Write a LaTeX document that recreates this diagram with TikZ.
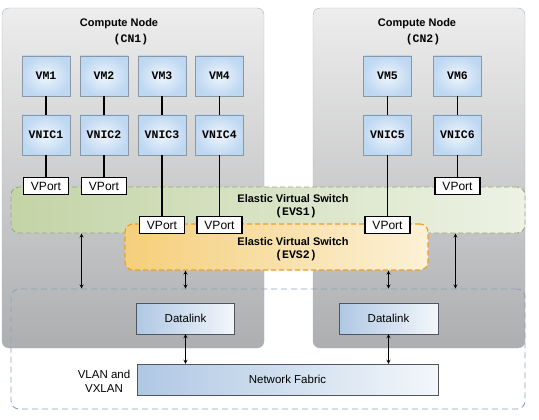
\documentclass[tikz,border=0pt]{standalone}
\usepackage{fontspec}
\setmainfont{Liberation Sans}
\setmonofont{Liberation Mono}
\usepackage{tikz}
\usetikzlibrary{shapes.geometric, arrows}
\definecolor{cnborder}{HTML}{A6B7C9}
\definecolor{cntop}{HTML}{EDEDED}
\definecolor{cnbottom}{HTML}{ADAEB0}
\definecolor{vmblue}{HTML}{BFD8F2}
\definecolor{vmborder}{HTML}{8A97A6}
\definecolor{dlblue}{HTML}{AFC8E3}
\definecolor{dlborder}{HTML}{4F5661}
\definecolor{evsgreen}{HTML}{C3D4A6}
\definecolor{evsgreenborder}{HTML}{98A87E}
\definecolor{evsorange}{HTML}{F5CF7A}
\definecolor{evsorangeborder}{HTML}{EE9F1E}
\definecolor{netborder}{HTML}{8CA1BA}
\tikzstyle{computenode} = [rectangle, rounded corners=7pt, minimum height=340pt, draw=cnborder, top color=cntop, bottom color=cnbottom]
\tikzstyle{title} = [font=\fontsize{11pt}{13pt}\selectfont\bfseries, inner sep=0pt]
\tikzstyle{tag} = [font=\fontsize{11.5pt}{13pt}\selectfont\ttfamily\bfseries, inner sep=0pt]
\tikzstyle{vmbox} = [rectangle, minimum width=48pt, minimum height=40pt, inner sep=0pt, draw=vmborder, inner color=vmblue!25, outer color=vmblue, font=\fontsize{11.5pt}{13pt}\selectfont\ttfamily\bfseries]
\tikzstyle{vport} = [rectangle, minimum width=45pt, minimum height=17pt, inner sep=0pt, draw=black, line width=1.2pt, fill=white, font=\fontsize{12pt}{13pt}\selectfont]
\tikzstyle{switch} = [rectangle, rounded corners=8pt, dash pattern=on 5pt off 3pt, minimum height=46pt]
\tikzstyle{datalink} = [rectangle, minimum height=31pt, draw=dlborder, left color=dlblue, middle color=dlblue, right color=dlblue!15, font=\fontsize{11.5pt}{13pt}\selectfont]
\tikzstyle{wire} = [line width=1.3pt]
\tikzstyle{arrow} = [<->, >=stealth, line width=0.8pt]

\begin{document}
\begin{tikzpicture}[x=1pt, y=-1pt, node distance=59pt]
\useasboundingbox (0,0) rectangle (539,420);

\node (cn1) [computenode, minimum width=262pt] at (133,178) {};
\node (cn2) [computenode, minimum width=212pt] at (419,178) {};
\node (cn1title) [title] at (119,24) {Compute Node};
\node (cn1tag) [tag] at (131,40) {(CN1)};
\node (cn2title) [title] at (417,24) {Compute Node};
\node (cn2tag) [tag] at (423,40) {(CN2)};

\node (net) [rectangle, rounded corners=8pt, dash pattern=on 6pt off 4pt, draw=netborder, line width=0.9pt, minimum width=514pt, minimum height=120pt] at (268,349) {};
\node (evs1) [switch, minimum width=514pt, draw=evsgreenborder, line width=0.9pt, left color=evsgreen, right color=evsgreen!30] at (268,210) {};
\node (evs2) [switch, minimum width=303pt, draw=evsorangeborder, line width=1.2pt, left color=evsorange, right color=evsorange!30] at (276.5,247) {};
\node (evs1title) [title] at (293,199) {Elastic Virtual Switch};
\node (evs1tag) [tag] at (296,213) {(EVS1)};
\node (evs2title) [title] at (293,242) {Elastic Virtual Switch};
\node (evs2tag) [tag] at (296,256) {(EVS2)};

\node (vm1) [vmbox] at (46,76) {VM1};
\node (vm2) [vmbox] at (104,76) {VM2};
\node (vm3) [vmbox] at (162,76) {VM3};
\node (vm4) [vmbox] at (219.5,76) {VM4};
\node (vm5) [vmbox] at (387.5,76) {VM5};
\node (vm6) [vmbox] at (457.5,76) {VM6};
\node (vnic1) [vmbox, below of=vm1] {VNIC1};
\node (vnic2) [vmbox, below of=vm2] {VNIC2};
\node (vnic3) [vmbox, below of=vm3] {VNIC3};
\node (vnic4) [vmbox, below of=vm4] {VNIC4};
\node (vnic5) [vmbox, below of=vm5] {VNIC5};
\node (vnic6) [vmbox, below of=vm6] {VNIC6};

\node (vport1) [vport, below of=vnic1, yshift=8pt] {VPort};
\node (vport2) [vport, below of=vnic2, yshift=8pt] {VPort};
\node (vport6) [vport, below of=vnic6, yshift=8pt] {VPort};
\node (vport3) [vport, below of=vnic3, yshift=-31pt] {VPort};
\node (vport4) [vport, below of=vnic4, yshift=-31pt] {VPort};
\node (vport5) [vport, below of=vnic5, yshift=-31pt] {VPort};

\foreach \i in {1,...,6}
  \draw [wire] (vm\i) -- (vnic\i) -- (vport\i);
\foreach \i in {1,...,6}
  \node [vport] at (vport\i) {VPort};

\node (dl1) [datalink, minimum width=98pt] at (185.5,318.5) {Datalink};
\node (dl2) [datalink, minimum width=99pt] at (388.5,318.5) {Datalink};
\node (fabric) [datalink, minimum width=301pt] at (287.5,379.5) {Network Fabric};
\node (vlan) [align=center, font=\fontsize{11.5pt}{14pt}\selectfont] at (104,381) {VLAN and\\VXLAN};

\draw [arrow] ([xshift=71pt]evs1.south west) -- ([xshift=71pt]net.north west);
\draw [arrow] ([xshift=-70pt]evs1.south east) -- ([xshift=-70pt]net.north east);
\draw [arrow] (dl1 |- evs2.south) -- (dl1 |- net.north);
\draw [arrow] (dl2 |- evs2.south) -- (dl2 |- net.north);
\draw [arrow] (dl1.south) -- (dl1 |- fabric.north);
\draw [arrow] (dl2.south) -- (dl2 |- fabric.north);

\end{tikzpicture}
\end{document}
